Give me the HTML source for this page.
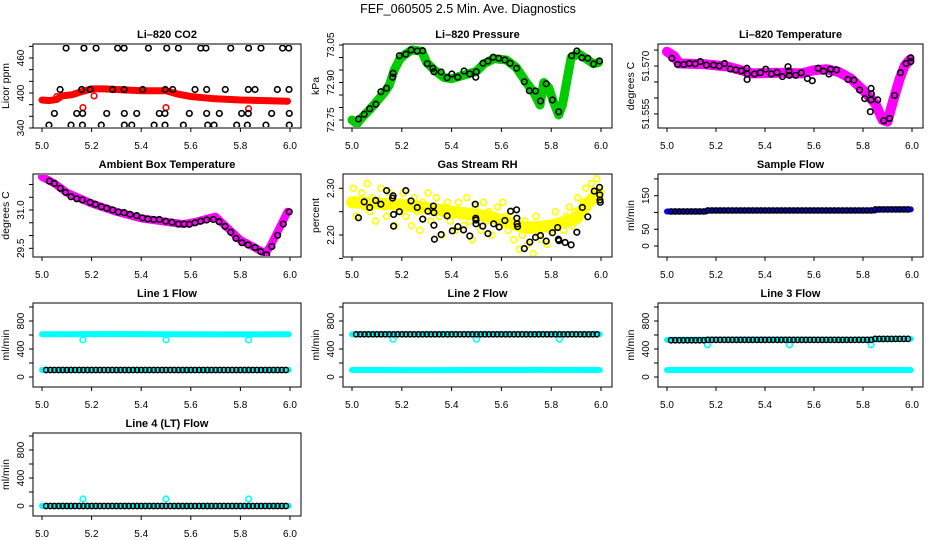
<!DOCTYPE html>
<html><head><meta charset="utf-8"><style>
html,body{margin:0;padding:0;background:#fff}
svg{display:block;font-family:"Liberation Sans",sans-serif}
</style></head><body>
<svg id="chart" width="936" height="540" viewBox="0 0 936 540" xmlns="http://www.w3.org/2000/svg">
<rect x="0" y="0" width="936" height="540" fill="#fff"/>
<text x="468" y="13" text-anchor="middle" font-size="12.5">FEF_060505  2.5 Min. Ave. Diagnostics</text>
</svg>
<script>
// ---------- data ----------
const xTicks = [5.0,5.2,5.4,5.6,5.8,6.0];
const xTickLabels = ["5.0","5.2","5.4","5.6","5.8","6.0"];

// CO2
const co2BandT = [5.0,5.03,5.06,5.08,5.12,5.15,5.2,5.25,5.3,5.4,5.5,5.55,5.6,5.65,5.7,5.8,5.9,5.99];
const co2BandV = [388,387,389,395,397,401,407,407,406,404,404,398,394,392,390,388,387,386];
const co2OutT = [5.06,5.165,5.21,5.5,5.833];
const co2OutV = [394,375,395,375,373];
const co2PtT = [5.097,5.169,5.218,5.305,5.331,5.429,5.503,5.55,5.64,5.661,5.761,5.833,5.883,5.97,5.995,
 5.073,5.16,5.194,5.285,5.331,5.406,5.497,5.527,5.617,5.664,5.739,5.832,5.859,5.949,5.996,
 5.05,5.14,5.164,5.261,5.332,5.382,5.473,5.496,5.594,5.664,5.715,5.805,5.832,5.926,5.997,
 5.028,5.117,5.163,5.239,5.332,5.362,5.452,5.496,5.57,5.668,5.694,5.785,5.828,5.903,5.997];
const co2PtV = [477,477,477,477,477,477,477,477,477,477,477,477,477,477,477,
 406,406,406,406,406,406,406,406,406,406,406,406,406,406,406,
 365,365,365,365,365,365,365,365,365,365,365,365,365,365,365,
 345,345,345,345,345,345,345,345,345,345,345,345,345,345,345];

// Pressure
const prBandT = [5.0,5.02,5.04,5.07,5.1,5.13,5.15,5.17,5.19,5.21,5.24,5.28,5.3,5.33,5.37,5.4,5.45,5.5,5.53,5.57,5.62,5.66,5.7,5.73,5.755,5.77,5.79,5.81,5.83,5.845,5.86,5.88,5.91,5.94,5.97,5.99];
const prBandV = [72.75,72.735,72.76,72.79,72.825,72.86,72.89,72.95,72.99,73.01,73.03,73.025,72.98,72.95,72.92,72.915,72.93,72.945,72.975,72.995,72.99,72.96,72.9,72.86,72.81,72.9,72.88,72.82,72.77,72.81,72.89,73.0,73.015,72.995,72.975,72.98];
const prPtT = [5.026,5.049,5.071,5.096,5.116,5.139,5.163,5.165,5.19,5.216,5.237,5.262,5.284,5.302,5.325,5.329,5.358,5.382,5.401,5.425,5.45,5.473,5.497,5.499,5.526,5.546,5.567,5.589,5.614,5.635,5.661,5.692,5.712,5.737,5.757,5.78,5.805,5.83,5.882,5.903,5.923,5.947,5.97,5.994];
const prPtV = [72.754,72.773,72.795,72.813,72.863,72.877,72.921,72.937,73.007,73.013,73.03,73.026,73.027,72.975,72.957,72.943,72.942,72.919,72.934,72.921,72.946,72.934,72.921,72.943,72.977,72.986,73.001,72.997,72.99,72.977,72.957,72.903,72.867,72.866,72.826,72.895,72.83,72.783,73.007,73.026,72.999,72.997,72.974,72.986];

// Li-820 temperature
const ltBandT = [5.0,5.03,5.05,5.15,5.25,5.35,5.45,5.55,5.6,5.65,5.7,5.75,5.8,5.85,5.88,5.9,5.92,5.95,5.97,5.99];
const ltBandV = [51.5745,51.573,51.5708,51.5706,51.5698,51.5677,51.5679,51.5677,51.5687,51.5690,51.5682,51.5661,51.5625,51.5583,51.5531,51.5526,51.5583,51.5661,51.5700,51.5719];
const ltPtT = [5.02,5.043,5.068,5.091,5.115,5.136,5.161,5.19,5.213,5.235,5.258,5.281,5.303,5.326,5.327,5.327,5.357,5.381,5.403,5.426,5.449,5.471,5.494,5.498,5.499,5.525,5.548,5.573,5.593,5.617,5.639,5.661,5.668,5.692,5.739,5.763,5.786,5.807,5.833,5.834,5.833,5.83,5.86,5.885,5.908,5.929,5.953,5.976,5.995,5.995];
const ltPtV = [51.5724,51.5705,51.5705,51.5708,51.5707,51.5714,51.5703,51.5703,51.5700,51.5708,51.5691,51.5688,51.5685,51.5693,51.5675,51.5658,51.5675,51.5679,51.5690,51.5675,51.5680,51.5667,51.5698,51.5685,51.5671,51.5671,51.5679,51.5661,51.5654,51.5693,51.5684,51.5675,51.5690,51.5688,51.5658,51.5656,51.5625,51.5598,51.5630,51.5613,51.5594,51.5557,51.5594,51.5529,51.5536,51.5608,51.5679,51.5708,51.5726,51.5714];

// Ambient box temperature
const abBandT = [5.0,5.05,5.1,5.2,5.3,5.4,5.5,5.57,5.62,5.67,5.7,5.75,5.8,5.85,5.9,5.92,5.96,5.99];
const abBandV = [32.30,32.04,31.68,31.26,30.93,30.67,30.54,30.45,30.54,30.67,30.74,30.28,29.83,29.57,29.30,29.57,30.35,30.93];
const abPtT = [5.030,5.050,5.074,5.095,5.117,5.140,5.163,5.194,5.215,5.239,5.261,5.285,5.308,5.331,5.355,5.382,5.405,5.427,5.45,5.473,5.499,5.524,5.55,5.573,5.594,5.617,5.64,5.664,5.691,5.714,5.738,5.761,5.782,5.806,5.831,5.859,5.882,5.906,5.927,5.95,5.973,5.997];
const abPtV = [32.13,32.04,31.85,31.69,31.52,31.44,31.39,31.30,31.22,31.13,31.07,31.00,30.92,30.90,30.83,30.78,30.69,30.65,30.63,30.63,30.56,30.52,30.45,30.45,30.44,30.50,30.56,30.61,30.63,30.54,30.36,30.13,29.89,29.72,29.63,29.53,29.37,29.25,29.57,30.01,30.45,30.93];

// Gas stream RH
const rhBandT = [5.0,5.2,5.4,5.55,5.7,5.8,5.9,5.95,5.99];
const rhBandV = [2.27,2.265,2.25,2.24,2.215,2.22,2.235,2.27,2.29];
const rhScatterV = [2.30,2.24,2.27,2.29,2.26,2.31,2.25,2.28,2.23,2.27,2.30,2.26,2.24,2.29,2.28,2.22,2.27,2.25,
 2.29,2.24,2.27,2.22,2.28,2.25,2.21,2.27,2.26,2.29,2.23,2.25,2.28,2.24,2.20,2.26,2.27,2.23,
 2.25,2.21,2.27,2.24,2.22,2.28,2.23,2.19,2.26,2.24,2.21,2.27,2.23,2.25,2.20,2.24,2.26,2.22,
 2.27,2.24,2.21,2.25,2.19,2.22,2.17,2.20,2.23,2.18,2.21,2.16,2.24,2.20,2.19,2.22,2.18,2.21,
 2.22,2.25,2.19,2.23,2.21,2.24,2.26,2.22,2.25,2.28,2.24,2.27,2.30,2.26,2.31,2.29,2.32,2.28];
const rhPtT = [5.026,5.049,5.071,5.095,5.116,5.139,5.163,5.165,5.167,5.167,5.19,5.216,5.237,5.262,5.284,5.305,5.327,5.329,5.329,5.331,5.358,5.382,5.403,5.425,5.448,5.473,5.495,5.497,5.498,5.498,5.525,5.546,5.569,5.591,5.614,5.637,5.661,5.662,5.663,5.665,5.692,5.714,5.737,5.757,5.78,5.805,5.826,5.829,5.831,5.856,5.88,5.903,5.925,5.947,5.973,5.994,5.995,5.996,5.997];
const rhPtV = [2.237,2.271,2.259,2.274,2.266,2.295,2.279,2.284,2.244,2.219,2.25,2.295,2.273,2.259,2.234,2.251,2.262,2.248,2.221,2.191,2.201,2.241,2.209,2.218,2.211,2.198,2.266,2.236,2.232,2.224,2.219,2.203,2.224,2.217,2.231,2.251,2.254,2.236,2.224,2.218,2.171,2.185,2.195,2.199,2.187,2.205,2.216,2.191,2.188,2.184,2.179,2.206,2.259,2.239,2.294,2.302,2.286,2.275,2.27];

// Sample flow
const sfBandT = [5.0,5.16,5.165,5.85,5.855,5.995];
const sfBandV = [103,103,106,106,109,109];
const sfPtV = [103,103,103,103,103,103,103,103,103,106,106,106,106,106,106,106,106,106,106,106,106,106,106,106,106,106,106,106,106,106,106,106,106,106,106,106,106,106,106,106,106,106,106,106,106,106,106,106,106,106,109,109,109,109,109,109,109,109,109];

// Line flows
const flowBandT = [5.0,5.25,5.5,5.75,5.995];
const l1High = [610,612,610,608,610];
const l1Low = [100,100,100,100,100];
const l1Black = [100,100,100,100,100,100,100,100,100,100,100,100,100,100,100,100,100,100,100,100,100,100,100,100,100,100,100,100,100,100,100,100,100,100,100,100,100,100,100,100,100,100,100,100,100,100,100,100,100,100,100,100,100,100,100,100,100,100,100];
const l2High = [610,610,610,610,610];
const l2Low = [100,98,100,102,100];
const l2Black = [610,610,610,610,610,610,610,610,610,610,610,610,610,610,610,610,610,610,610,610,610,610,610,610,610,610,610,610,610,610,610,610,610,610,610,610,610,610,610,610,610,610,610,610,610,610,610,610,610,610,610,610,610,610,610,610,610,610,610];
const l3High = [530,535,535,532,545];
const l3Low = [100,100,100,100,100];
const l3Black = [525,525,525,525,525,525,525,525,525,530,530,530,530,530,530,530,530,530,530,530,530,530,530,530,530,530,530,530,530,530,530,530,530,530,530,530,530,530,530,530,530,530,530,530,530,530,530,530,530,530,545,545,545,545,545,545,545,545,545];
const l4Band = [0,0,0,0,0];
const l4Black = [0,0,0,0,0,0,0,0,0,0,0,0,0,0,0,0,0,0,0,0,0,0,0,0,0,0,0,0,0,0,0,0,0,0,0,0,0,0,0,0,0,0,0,0,0,0,0,0,0,0,0,0,0,0,0,0,0,0,0];
const outT = [5.165,5.5,5.833];
const l1Out = [530,530,530];
const l2Out = [540,540,540];
const l3Out = [460,460,460];
const l4Out = [100,100,100];

// ---------- drawing ----------
const NS = "http://www.w3.org/2000/svg";
const svg = document.getElementById("chart");
const colL = [33,343,658], colR = [301,612,923];
const rowT = [44,174,303,433], rowB = [128,257,387,516];

function mk(tag, attrs, parent){
  const e = document.createElementNS(NS, tag);
  for (const k in attrs) e.setAttribute(k, attrs[k]);
  (parent||svg).appendChild(e);
  return e;
}
function panel(col,row,title,ylab,ymin,ymax,ticks,labels,slug){
  const L=colL[col],R=colR[col],T=rowT[row],B=rowB[row];
  const g = mk("g",{});
  
  
  const sx = t => L+9 + (t-5)*(R-L-20);
  const sy = v => B - (v-ymin)/(ymax-ymin)*(B-T);
  const frame = mk("rect",{x:L,y:T,width:R-L,height:B-T,fill:"none",stroke:"#000","stroke-width":1},g);
  
  
  const tt = mk("text",{x:(L+R)/2,y:T-6,"text-anchor":"middle","font-size":11,"font-weight":"bold"},g);
  tt.textContent = title;
  
  
  xTicks.forEach((t,i)=>{
    const tk = mk("line",{x1:sx(t),x2:sx(t),y1:B,y2:B+4,stroke:"#000"},g);
    
    
    const tl = mk("text",{x:sx(t),y:B+21,"text-anchor":"middle","font-size":10},g);
    tl.textContent = xTickLabels[i];
    
    
  });
  ticks.forEach((v,i)=>{
    const y = sy(v);
    const tk = mk("line",{x1:L-4,x2:L,y1:y,y2:y,stroke:"#000"},g);
    
    
    if (labels[i]) {
      const tl = mk("text",{x:0,y:0,"text-anchor":"middle","font-size":10,transform:`translate(${L-9},${y}) rotate(-90)`},g);
      tl.textContent = labels[i];
      
      
    }
  });
  const yl = mk("text",{x:0,y:0,"text-anchor":"middle","font-size":10.5,transform:`translate(${L-24},${(T+B)/2}) rotate(-90)`},g);
  yl.textContent = ylab;
  
  
  const clip = "clip-"+slug;
  const cp = mk("clipPath",{id:clip},g);
  mk("rect",{x:L+1,y:T+1,width:R-L-2,height:B-T-2},cp);
  const plot = mk("g",{"clip-path":`url(#${clip})`},g);
  return {sx,sy,plot};
}
function band(p,ts,vs,color,w,name){
  const pts = ts.map((t,i)=>p.sx(t).toFixed(1)+","+p.sy(vs[i]).toFixed(1)).join(" ");
  const pl = mk("polyline",{points:pts,fill:"none",stroke:color,"stroke-width":w,"stroke-linejoin":"round","stroke-linecap":"round"},p.plot);
  
  
}
function pts(p,ts,vs,color,name,r,sw){
  ts.forEach((t,i)=>{
    const c = mk("circle",{cx:p.sx(t),cy:p.sy(vs[i]),r:r||2.8,fill:"none",stroke:color,"stroke-width":sw||1.6},p.plot);
    
    
  });
}
const seqT = n => Array.from({length:n},(_,i)=>5+(i+1)/60);

// Panel 1: CO2
let p = panel(0,0,"Li\u2013820 CO2","Licor ppm",340,484,[340,360,380,400,420,440,460,480],["340","","","400","","","460",""],"co2");
band(p,co2BandT,co2BandV,"#ff0000",7,"co2-band");
pts(p,co2OutT,co2OutV,"#ff0000","co2-outlier-point");
pts(p,co2PtT,co2PtV,"#000","co2-point");

// Panel 2: pressure
p = panel(1,0,"Li\u2013820 Pressure","kPa",72.718,73.054,[72.75,72.80,72.85,72.90,72.95,73.00,73.05],["72.75","","","72.90","","","73.05"],"pressure");
band(p,prBandT,prBandV,"#00cc00",9,"pressure-band");
pts(p,prPtT,prPtV,"#000","pressure-point");

// Panel 3: Li-820 temperature
p = panel(2,0,"Li\u2013820 Temperature","degrees C",51.5506,51.5769,[51.575,51.570,51.565,51.560,51.555],["","51.570","","","51.555"],"li820-temperature");
band(p,ltBandT,ltBandV,"#ff00ff",10,"li820-temperature-band");
pts(p,ltPtT,ltPtV,"#000","li820-temperature-point");

// Panel 4: ambient box temperature
p = panel(0,1,"Ambient Box Temperature","degrees C",29.16,32.41,[29.5,30.0,30.5,31.0,31.5,32.0],["29.5","","","31.0","",""],"ambient-temperature");
band(p,abBandT,abBandV,"#ff00ff",8,"ambient-temperature-band");
pts(p,abPtT,abPtV,"#000","ambient-temperature-point");

// Panel 5: RH
p = panel(1,1,"Gas Stream RH","percent",2.153,2.3306,[2.15,2.20,2.25,2.30],["","2.20","","2.30"],"rh");
band(p,rhBandT,rhBandV,"#ffff00",12,"rh-band");
pts(p,rhScatterV.map((_,i)=>5+(i+0.5)/rhScatterV.length),rhScatterV,"#ffff00","rh-scatter-point",3,1.6);
pts(p,rhPtT,rhPtV,"#000","rh-point");

// Panel 6: sample flow
p = panel(2,1,"Sample Flow","ml/min",-32.8,214.7,[0,50,100,150,200],["0","50","","150",""],"sample-flow");
band(p,sfBandT,sfBandV,"#0000ff",6,"sample-flow-band");
pts(p,seqT(sfPtV.length),sfPtV,"#000","sample-flow-point",2.6,1.5);

const flowTicks=[0,200,400,600,800,1000], flowLabels=["0","","400","","800",""];
// Line 1
p = panel(0,2,"Line 1 Flow","ml/min",-143,1057,flowTicks,flowLabels,"line1-flow");
band(p,flowBandT,l1High,"#00ffff",6,"line1-high-band");
band(p,flowBandT,l1Low,"#00ffff",6,"line1-low-band");
pts(p,outT,l1Out,"#00ffff","line1-outlier");
pts(p,seqT(l1Black.length),l1Black,"#000","line1-point",2.6,1.5);
// Line 2
p = panel(1,2,"Line 2 Flow","ml/min",-143,1057,flowTicks,flowLabels,"line2-flow");
band(p,flowBandT,l2High,"#00ffff",6,"line2-high-band");
band(p,flowBandT,l2Low,"#00ffff",6,"line2-low-band");
pts(p,outT,l2Out,"#00ffff","line2-outlier");
pts(p,seqT(l2Black.length),l2Black,"#000","line2-point",2.6,1.5);
// Line 3
p = panel(2,2,"Line 3 Flow","ml/min",-143,1057,flowTicks,flowLabels,"line3-flow");
band(p,flowBandT,l3High,"#00ffff",6,"line3-high-band");
band(p,flowBandT,l3Low,"#00ffff",6,"line3-low-band");
pts(p,outT,l3Out,"#00ffff","line3-outlier");
pts(p,seqT(l3Black.length),l3Black,"#000","line3-point",2.6,1.5);
// Line 4
p = panel(0,3,"Line 4 (LT) Flow","ml/min",-143,1043,flowTicks,flowLabels,"line4-flow");
band(p,flowBandT,l4Band,"#00ffff",6,"line4-band");
pts(p,outT,l4Out,"#00ffff","line4-outlier");
pts(p,seqT(l4Black.length),l4Black,"#000","line4-point",2.6,1.5);
</script>
</body></html>
